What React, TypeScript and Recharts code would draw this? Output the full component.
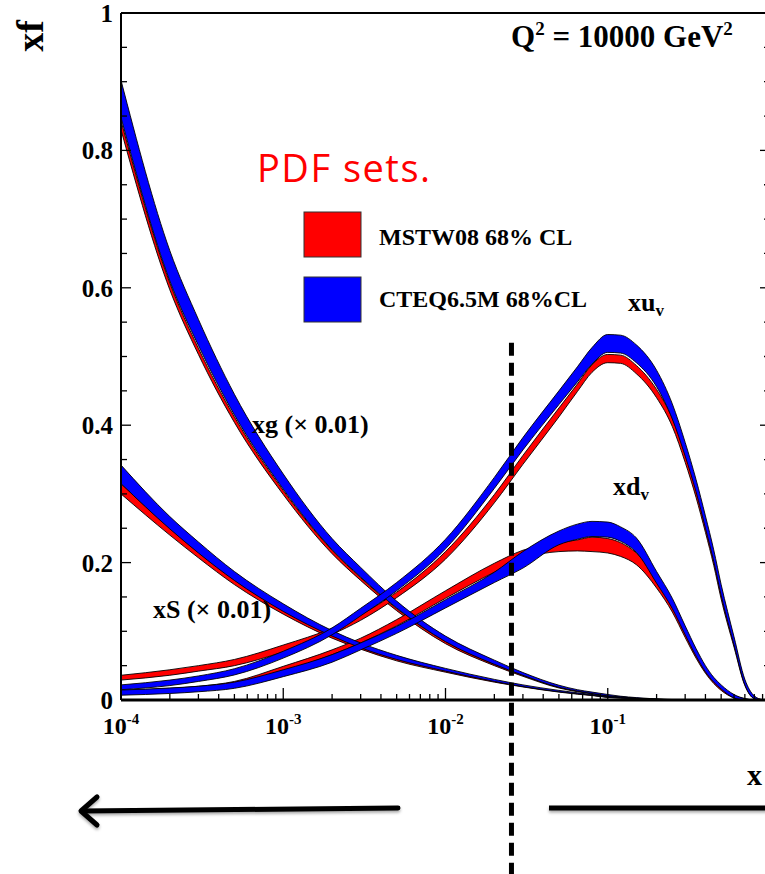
import { ComposedChart, Area, XAxis, YAxis, ReferenceLine } from 'recharts';

// x grid (log axis), band values
const X = [
  1e-4, 2e-4, 3e-4, 5e-4, 1e-3, 2e-3, 3e-3, 5e-3, 1e-2, 2e-2, 3e-2, 5e-2, 0.065, 0.08, 0.1, 0.12, 0.15,
  0.2, 0.25, 0.3, 0.35, 0.4, 0.45, 0.5, 0.6, 0.7, 0.8, 0.9, 1,
];

type Band = [number, number][];

// xg (x 0.01)
const XG_MSTW: Band = [
  [0.83, 0.843], [0.597, 0.607], [0.503, 0.512], [0.404, 0.412], [0.299, 0.305], [0.213, 0.218],
  [0.174, 0.178], [0.13, 0.133], [0.082, 0.085], [0.05, 0.052], [0.0345, 0.036], [0.0175, 0.0185],
  [0.012, 0.013], [0.009, 0.0095], [0.0055, 0.006], [0.004, 0.0045], [0.002, 0.0025], [0.0008, 0.001],
  [0.0003, 0.0004], [0, 0], [0, 0], [0, 0], [0, 0], [0, 0], [0, 0], [0, 0], [0, 0], [0, 0], [0, 0],
];
const XG_CTEQ: Band = [
  [0.848, 0.902], [0.61, 0.654], [0.516, 0.554], [0.415, 0.445], [0.307, 0.329], [0.219, 0.235],
  [0.179, 0.193], [0.134, 0.144], [0.085, 0.093], [0.052, 0.058], [0.036, 0.04], [0.0185, 0.0215],
  [0.013, 0.015], [0.0095, 0.0115], [0.006, 0.008], [0.0045, 0.0055], [0.0025, 0.0035], [0.001, 0.0015],
  [0.0004, 0.0007], [0, 0], [0, 0], [0, 0], [0, 0], [0, 0], [0, 0], [0, 0], [0, 0], [0, 0], [0, 0],
];

// xS (x 0.01)
const XS_MSTW: Band = [
  [0.3, 0.315], [0.24, 0.25], [0.207, 0.215], [0.168, 0.175], [0.125, 0.13], [0.09, 0.094],
  [0.074, 0.077], [0.057, 0.06], [0.0405, 0.043], [0.026, 0.028], [0.019, 0.02], [0.0115, 0.0125],
  [0.0085, 0.0095], [0.0065, 0.007], [0.0038, 0.0043], [0.0028, 0.0032], [0.0017, 0.002], [0.0008, 0.001],
  [0.0003, 0.0004], [0, 0], [0, 0], [0, 0], [0, 0], [0, 0], [0, 0], [0, 0], [0, 0], [0, 0], [0, 0],
];
const XS_CTEQ: Band = [
  [0.315, 0.342], [0.249, 0.267], [0.214, 0.23], [0.174, 0.187], [0.129, 0.14], [0.093, 0.101],
  [0.076, 0.083], [0.059, 0.065], [0.042, 0.046], [0.027, 0.03], [0.0195, 0.022], [0.012, 0.014],
  [0.009, 0.0105], [0.007, 0.008], [0.004, 0.005], [0.003, 0.0035], [0.0018, 0.0023], [0.0008, 0.0012],
  [0.0003, 0.0005], [0, 0], [0, 0], [0, 0], [0, 0], [0, 0], [0, 0], [0, 0], [0, 0], [0, 0], [0, 0],
];

// xu_v
const XUV_MSTW: Band = [
  [0.029, 0.036], [0.036, 0.044], [0.042, 0.05], [0.05, 0.059], [0.07, 0.08], [0.0955, 0.1045],
  [0.116, 0.124], [0.149, 0.157], [0.205, 0.216], [0.287, 0.299], [0.343, 0.356], [0.412, 0.425],
  [0.449, 0.46], [0.477, 0.488], [0.491, 0.503], [0.49, 0.502], [0.475, 0.487], [0.44, 0.452],
  [0.398, 0.41], [0.346, 0.358], [0.295, 0.307], [0.244, 0.255], [0.196, 0.206], [0.147, 0.157],
  [0.077, 0.086], [0.021, 0.027], [0.002, 0.005], [0, 0.0005], [0, 0],
];
const XUV_CTEQ: Band = [
  [0.015, 0.022], [0.021, 0.029], [0.027, 0.035], [0.0365, 0.0455], [0.061, 0.071], [0.095, 0.105],
  [0.1225, 0.1335], [0.159, 0.171], [0.22, 0.234], [0.308, 0.324], [0.364, 0.382], [0.43, 0.45],
  [0.463, 0.485], [0.489, 0.513], [0.506, 0.532], [0.505, 0.531], [0.491, 0.517], [0.456, 0.48],
  [0.409, 0.431], [0.355, 0.375], [0.303, 0.321], [0.25, 0.268], [0.2015, 0.2185], [0.152, 0.168],
  [0.08, 0.092], [0.022, 0.03], [0.002, 0.006], [0, 0.0005], [0, 0],
];

// xd_v
const XDV_MSTW: Band = [
  [0.01, 0.014], [0.013, 0.017], [0.016, 0.02], [0.022, 0.027], [0.042, 0.049], [0.066, 0.073],
  [0.083, 0.09], [0.108, 0.117], [0.148, 0.159], [0.186, 0.199], [0.206, 0.218], [0.216, 0.229],
  [0.217, 0.233], [0.216, 0.237], [0.214, 0.235], [0.209, 0.229], [0.197, 0.214], [0.163, 0.177],
  [0.128, 0.14], [0.091, 0.102], [0.061, 0.071], [0.039, 0.047], [0.024, 0.031], [0.014, 0.02],
  [0.003, 0.007], [0, 0.002], [0, 0], [0, 0], [0, 0],
];
const XDV_CTEQ: Band = [
  [0.007, 0.0145], [0.0095, 0.0175], [0.012, 0.02], [0.017, 0.026], [0.034, 0.044], [0.055, 0.066],
  [0.073, 0.083], [0.097, 0.107], [0.134, 0.146], [0.171, 0.186], [0.192, 0.216], [0.226, 0.246],
  [0.234, 0.256], [0.238, 0.26], [0.237, 0.259], [0.231, 0.252], [0.215, 0.236], [0.17, 0.187],
  [0.133, 0.148], [0.095, 0.108], [0.064, 0.075], [0.041, 0.05], [0.026, 0.033], [0.016, 0.022],
  [0.003, 0.008], [0, 0.002], [0, 0], [0, 0], [0, 0],
];

const DECADES = [1e-4, 1e-3, 1e-2, 1e-1];
const X_TICKS = DECADES.flatMap((d) => [2, 3, 4, 5, 6, 7, 8, 9].map((m) => m * d)).concat([...DECADES, 1]);
const Y_TICKS = Array.from({ length: 21 }, (_, i) => i * 0.05);
const CUT_X = 0.0255; // dashed vertical line

const rows = X.map((x, i) => ({
  x,
  gM: XG_MSTW[i], gC: XG_CTEQ[i],
  sM: XS_MSTW[i], sC: XS_CTEQ[i],
  uM: XUV_MSTW[i], uC: XUV_CTEQ[i],
  dM: XDV_MSTW[i], dC: XDV_CTEQ[i],
}));

const SERIF = "'Liberation Serif', 'DejaVu Serif', serif";
const RED = '#ff0000';
const BLUE = '#0000ff';

const isMajorX = (v: number) => {
  const e = Math.log10(v);
  return Math.abs(e - Math.round(e)) < 1e-6;
};
const isMajorY = (v: number) => Math.abs(v * 5 - Math.round(v * 5)) < 1e-6;

function XTick(props: any) {
  const { x, y, payload, top } = props;
  const v = payload.value as number;
  const major = isMajorX(v);
  const len = major ? 12 : 6;
  const e = Math.round(Math.log10(v));
  return (
    <g>
      <line x1={x} x2={x} y1={y} y2={top ? y + len : y - len} stroke="#000" strokeWidth={1.3} />
      {!top && major && e < 0 && (
        <text x={x} y={y + 34} textAnchor="middle" fontFamily={SERIF} fontWeight="bold" fontSize={24} fill="#000">
          10<tspan dy={-10} fontSize={15}>{e}</tspan>
        </text>
      )}
    </g>
  );
}

function YTick(props: any) {
  const { x, y, payload, right } = props;
  const v = payload.value as number;
  const major = isMajorY(v);
  const len = major ? 10 : 6;
  const label = v === 0 ? '0' : Math.abs(v - 1) < 1e-6 ? '1' : v.toFixed(1);
  return (
    <g>
      <line x1={x} x2={right ? x - len : x + len} y1={y} y2={y} stroke="#000" strokeWidth={1.3} />
      {!right && major && (
        <text x={x - 8} y={y + 9} textAnchor="end" fontFamily={SERIF} fontWeight="bold" fontSize={25} fill="#000">
          {label}
        </text>
      )}
    </g>
  );
}

// MSTW (red) first, CTEQ (blue) drawn over it
const bandKeys: { key: string; color: string }[] = [
  { key: 'gM', color: RED },
  { key: 'sM', color: RED },
  { key: 'uM', color: RED },
  { key: 'dM', color: RED },
  { key: 'gC', color: BLUE },
  { key: 'sC', color: BLUE },
  { key: 'uC', color: BLUE },
  { key: 'dC', color: BLUE },
];

export default function App() {
  return (
    <div style={{ position: 'absolute', left: 0, top: 0, width: 765, height: 874, overflow: 'hidden', background: '#fff' }}>
      <ComposedChart width={800} height={874} data={rows} margin={{ top: 0, right: 0, bottom: 134, left: 61 }}>
        <XAxis
          dataKey="x"
          type="number"
          scale="log"
          domain={[1e-4, 1]}
          allowDataOverflow
          ticks={X_TICKS}
          interval={0}
          tickSize={0}
          tickMargin={0}
          height={40}
          tickLine={false}
          axisLine={{ stroke: '#000', strokeWidth: 3 }}
          tick={(p: any) => <XTick {...p} />}
        />
        <XAxis
          xAxisId="t"
          orientation="top"
          type="number"
          scale="log"
          domain={[1e-4, 1]}
          allowDataOverflow
          ticks={X_TICKS}
          interval={0}
          tickSize={0}
          tickMargin={0}
          height={13}
          tickLine={false}
          axisLine={{ stroke: '#000', strokeWidth: 2 }}
          tick={(p: any) => <XTick {...p} top />}
        />
        <YAxis
          type="number"
          domain={[0, 1]}
          allowDataOverflow
          ticks={Y_TICKS}
          interval={0}
          tickSize={0}
          tickMargin={0}
          width={60}
          tickLine={false}
          axisLine={{ stroke: '#000', strokeWidth: 2 }}
          tick={(p: any) => <YTick {...p} />}
        />
        <YAxis
          yAxisId="r"
          orientation="right"
          type="number"
          domain={[0, 1]}
          allowDataOverflow
          ticks={Y_TICKS}
          interval={0}
          tickSize={0}
          tickMargin={0}
          width={30}
          tickLine={false}
          axisLine={{ stroke: '#000', strokeWidth: 2 }}
          tick={(p: any) => <YTick {...p} right />}
        />
        {bandKeys.map((b) => (
          <Area
            key={b.key}
            dataKey={b.key}
            type="monotone"
            fill={b.color}
            fillOpacity={1}
            stroke="#000"
            strokeWidth={0.9}
            dot={false}
            activeDot={false}
            isAnimationActive={false}
          />
        ))}
        <ReferenceLine
          segment={[{ x: CUT_X, y: 0.52 }, { x: CUT_X, y: -0.26 }]}
          ifOverflow="visible"
          stroke="#000"
          strokeWidth={5}
          strokeDasharray="13 7"
        />
      </ComposedChart>

      <svg width={765} height={874} style={{ position: 'absolute', left: 0, top: 0, pointerEvents: 'none' }}>
        <defs>
          <filter id="sh" x="-10%" y="-50%" width="120%" height="300%">
            <feDropShadow dx={0} dy={2} stdDeviation={1.5} floodColor="#000" floodOpacity={0.35} />
          </filter>
        </defs>
        <text transform="translate(43,36) rotate(-90)" textAnchor="middle" fontFamily={SERIF} fontWeight="bold" fontSize={38}>
          xf
        </text>
        <text x={511} y={47} fontFamily={SERIF} fontWeight="bold" fontSize={31}>
          Q<tspan dy={-12} fontSize={19}>2</tspan>
          <tspan dy={12}> = 10000 GeV</tspan>
          <tspan dy={-12} fontSize={19}>2</tspan>
        </text>
        <text x={257} y={182} fontFamily="'Open Sans', 'Noto Sans', sans-serif" fontSize={38} fill={RED} textLength={173} lengthAdjust="spacing">
          PDF sets.
        </text>
        <rect x={304} y={212} width={57} height={45} fill={RED} stroke="#333" strokeWidth={1} />
        <rect x={304} y={277} width={57} height={45} fill={BLUE} stroke="#333" strokeWidth={1} />
        <text x={379} y={245} fontFamily={SERIF} fontWeight="bold" fontSize={24}>MSTW08 68% CL</text>
        <text x={379} y={307} fontFamily={SERIF} fontWeight="bold" fontSize={24}>CTEQ6.5M 68%CL</text>
        <text x={628} y={311} fontFamily={SERIF} fontWeight="bold" fontSize={26}>
          xu<tspan dy={5} fontSize={17}>v</tspan>
        </text>
        <text x={613} y={495} fontFamily={SERIF} fontWeight="bold" fontSize={26}>
          xd<tspan dy={5} fontSize={17}>v</tspan>
        </text>
        <text x={252} y={433} fontFamily={SERIF} fontWeight="bold" fontSize={26}>xg (× 0.01)</text>
        <text x={153} y={618} fontFamily={SERIF} fontWeight="bold" fontSize={26}>xS (× 0.01)</text>
        <text x={747} y={785} fontFamily={SERIF} fontWeight="bold" fontSize={30}>x</text>
        <g filter="url(#sh)" stroke="#000" strokeWidth={5} fill="none" strokeLinecap="round" strokeLinejoin="round">
          <line x1={398} y1={808} x2={82} y2={811} />
          <polyline points="97,797 81,811 97,825" />
          <line x1={549} y1={808} x2={800} y2={808} strokeLinecap="butt" />
        </g>
      </svg>
    </div>
  );
}
